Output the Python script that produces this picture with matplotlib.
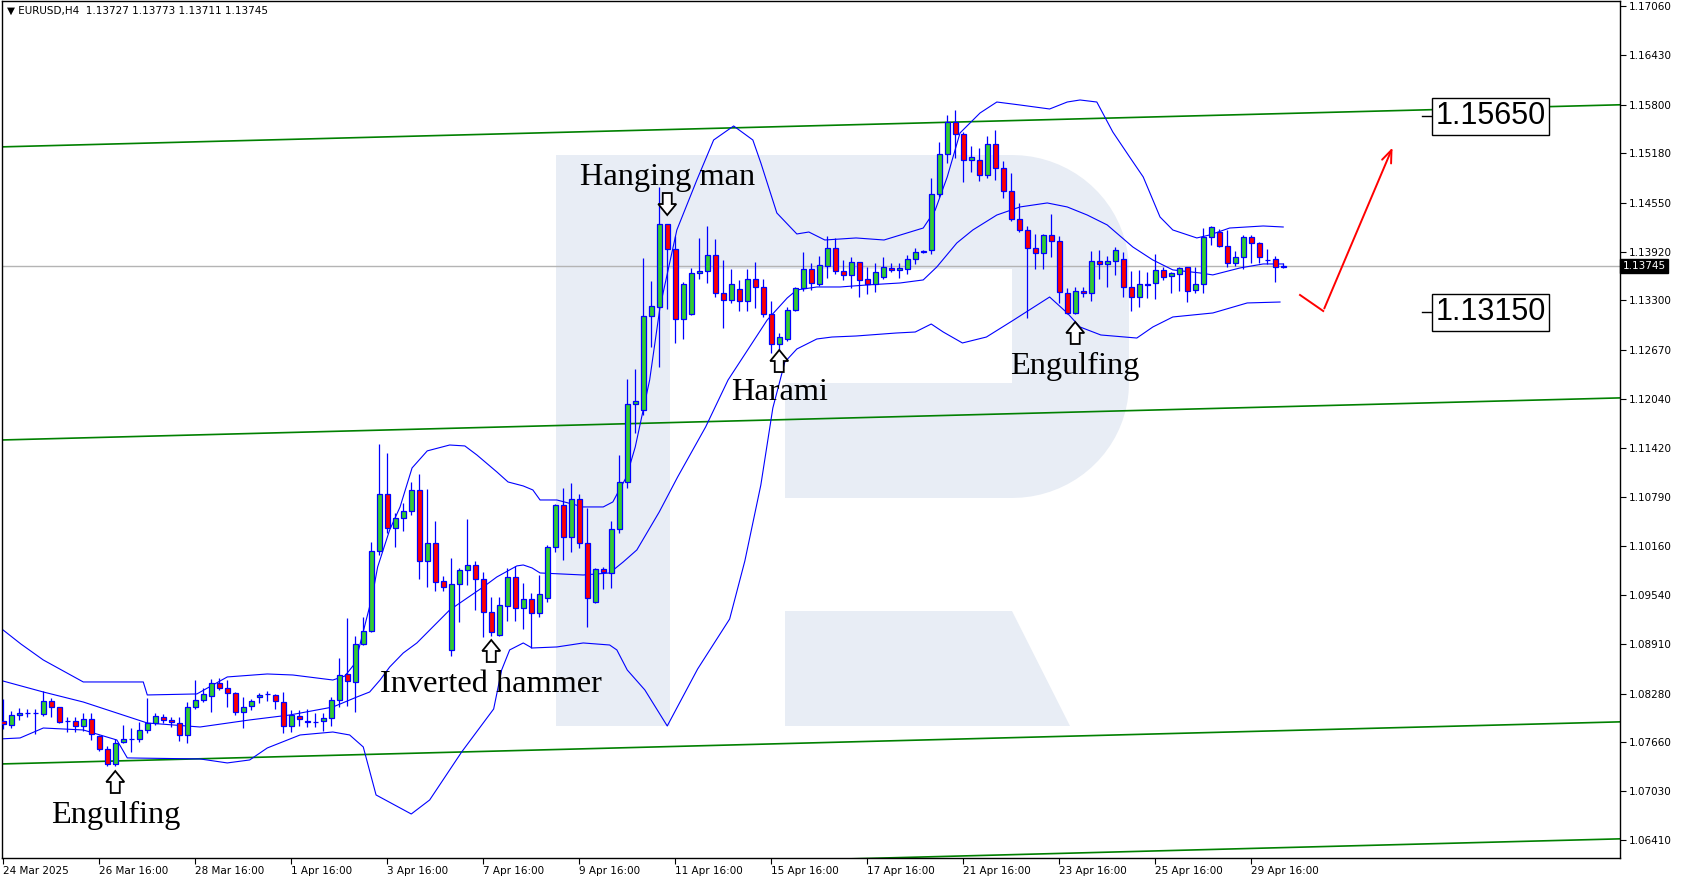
import numpy as np
import matplotlib
matplotlib.use("Agg")
import matplotlib.pyplot as plt
from matplotlib.patches import Polygon

# EURUSD H4 candles, bar 0 = 24 Mar 2025 20:00
opens = [1.07934, 1.07879, 1.08003, 1.08030, 1.08028, 1.08015, 1.08185, 1.08105, 1.07934, 1.07934,
         1.07862, 1.07959, 1.07742, 1.07568, 1.07377, 1.07658, 1.07704, 1.07704, 1.07811, 1.07900,
         1.07977, 1.07943, 1.07908, 1.07747, 1.08105, 1.08194, 1.08249, 1.08419, 1.08351, 1.08284,
         1.08041, 1.08121, 1.08240, 1.08275, 1.08258, 1.08176, 1.07870, 1.07998, 1.07934, 1.07921,
         1.07934, 1.07972, 1.08194, 1.08526, 1.08424, 1.08909, 1.09079, 1.10097, 1.10825, 1.10391,
         1.10518, 1.10608, 1.10876, 1.09969, 1.10199, 1.09718, 1.08833, 1.09675, 1.09854, 1.09918,
         1.09739, 1.09326, 1.09024, 1.09402, 1.09769, 1.09369, 1.09484, 1.09305, 1.09497, 1.10148,
         1.10684, 1.10276, 1.10761, 1.10199, 1.09453, 1.09867, 1.09824, 1.10382, 1.10978, 1.11974,
         1.11897, 1.13098, 1.13220, 1.14277, 1.13953, 1.13060, 1.13123, 1.13647, 1.13676, 1.13877,
         1.13392, 1.13306, 1.13443, 1.13293, 1.13574, 1.13468, 1.13127, 1.12744, 1.12804, 1.13174,
         1.13455, 1.13698, 1.13510, 1.13740, 1.13966, 1.13676, 1.13621, 1.13787, 1.13574, 1.13506,
         1.13596, 1.13718, 1.13685, 1.13698, 1.13826, 1.13920, 1.13941, 1.14656, 1.15167, 1.15575,
         1.15422, 1.15090, 1.15090, 1.14898, 1.15294, 1.14988, 1.14698, 1.14340, 1.14200, 1.13966,
         1.13902, 1.14136, 1.14056, 1.13392, 1.13136, 1.13425, 1.13392, 1.13800, 1.13762, 1.13800,
         1.13826, 1.13468, 1.13348, 1.13500, 1.13519, 1.13685, 1.13612, 1.13634, 1.13724, 1.13430,
         1.13506, 1.14111, 1.14178, 1.13996, 1.13775, 1.13855, 1.14111, 1.14030, 1.13815, 1.13826,
         1.13727]
highs = [1.08207, 1.08061, 1.08092, 1.08083, 1.08079, 1.08313, 1.08220, 1.08110, 1.07977, 1.07977,
         1.08028, 1.08028, 1.07751, 1.07614, 1.07704, 1.07875, 1.07840, 1.07913, 1.08227, 1.08036,
         1.08019, 1.07977, 1.07977, 1.08176, 1.08453, 1.08347, 1.08462, 1.08475, 1.08453, 1.08304,
         1.08240, 1.08211, 1.08287, 1.08309, 1.08271, 1.08300, 1.08070, 1.08070, 1.08083, 1.08028,
         1.08028, 1.08232, 1.08731, 1.09241, 1.09015, 1.09254, 1.10212, 1.11467, 1.11348, 1.10582,
         1.10710, 1.10986, 1.11084, 1.10889, 1.10484, 1.09781, 1.10008, 1.09887, 1.10506, 1.09973,
         1.09833, 1.09517, 1.09517, 1.09880, 1.09913, 1.09688, 1.09561, 1.09790, 1.10177, 1.10701,
         1.10901, 1.10965, 1.10829, 1.10654, 1.09880, 1.09896, 1.10484, 1.11327, 1.12297, 1.12425,
         1.13846, 1.13552, 1.14745, 1.14280, 1.14123, 1.13536, 1.13711, 1.14094, 1.14251, 1.14081,
         1.13817, 1.13698, 1.13561, 1.13698, 1.13795, 1.13570, 1.13297, 1.12888, 1.13220, 1.13476,
         1.13923, 1.13775, 1.13868, 1.14123, 1.14094, 1.13813, 1.13851, 1.13795, 1.13731, 1.13775,
         1.13859, 1.13775, 1.13775, 1.13881, 1.13974, 1.13944, 1.14860, 1.15320, 1.15668, 1.15732,
         1.15455, 1.15276, 1.15243, 1.15404, 1.15477, 1.15081, 1.14932, 1.14541, 1.14251, 1.14149,
         1.14145, 1.14400, 1.14127, 1.13455, 1.13468, 1.13476, 1.13932, 1.13944, 1.13872, 1.13987,
         1.13915, 1.13676, 1.13689, 1.13664, 1.13893, 1.13731, 1.13660, 1.13731, 1.13731, 1.13731,
         1.14229, 1.14255, 1.14213, 1.14200, 1.13936, 1.14136, 1.14136, 1.14050, 1.13953, 1.13872,
         1.13773]
lows = [1.07824, 1.07844, 1.07943, 1.07977, 1.07764, 1.07998, 1.07977, 1.07900, 1.07789, 1.07785,
        1.07798, 1.07687, 1.07551, 1.07355, 1.07355, 1.07645, 1.07538, 1.07665, 1.07780, 1.07875,
        1.07900, 1.07849, 1.07678, 1.07653, 1.08079, 1.08172, 1.08045, 1.08326, 1.08112, 1.08006,
        1.07844, 1.08074, 1.08156, 1.08181, 1.08079, 1.07780, 1.07793, 1.07866, 1.07857, 1.07857,
        1.07806, 1.07866, 1.08112, 1.08121, 1.08049, 1.08897, 1.09070, 1.10050, 1.10327, 1.10156,
        1.10360, 1.10560, 1.09747, 1.09645, 1.09594, 1.09594, 1.08760, 1.09198, 1.09667, 1.09347,
        1.09006, 1.09019, 1.09015, 1.09207, 1.09211, 1.09105, 1.08858, 1.09262, 1.09453, 1.10092,
        1.09986, 1.10092, 1.10135, 1.09134, 1.09433, 1.09612, 1.09624, 1.10327, 1.10901, 1.11608,
        1.11837, 1.12710, 1.12454, 1.13191, 1.12761, 1.12812, 1.13114, 1.13574, 1.13527, 1.13348,
        1.12952, 1.13272, 1.13166, 1.13166, 1.13200, 1.13093, 1.12633, 1.12655, 1.12786, 1.13166,
        1.13421, 1.13434, 1.13485, 1.13591, 1.13634, 1.13561, 1.13455, 1.13348, 1.13379, 1.13404,
        1.13574, 1.13667, 1.13583, 1.13638, 1.13762, 1.13902, 1.13890, 1.14625, 1.15052, 1.15116,
        1.14809, 1.14937, 1.14826, 1.14860, 1.14838, 1.14612, 1.14319, 1.14171, 1.13072, 1.13706,
        1.13706, 1.13859, 1.13264, 1.13127, 1.13127, 1.13348, 1.13297, 1.13578, 1.13468, 1.13629,
        1.13348, 1.13162, 1.13213, 1.13328, 1.13323, 1.13561, 1.13399, 1.13425, 1.13284, 1.13399,
        1.13392, 1.14005, 1.13987, 1.13731, 1.13744, 1.13698, 1.13775, 1.13775, 1.13766, 1.13540,
        1.13711]
closes = [1.07888, 1.08006, 1.08032, 1.08034, 1.08030, 1.08181, 1.08105, 1.07913, 1.07934, 1.07866,
          1.07959, 1.07764, 1.07568, 1.07381, 1.07653, 1.07696, 1.07704, 1.07811, 1.07908, 1.07994,
          1.07939, 1.07913, 1.07747, 1.08105, 1.08198, 1.08278, 1.08419, 1.08347, 1.08284, 1.08041,
          1.08112, 1.08181, 1.08266, 1.08275, 1.08181, 1.07870, 1.08003, 1.07952, 1.07913, 1.07921,
          1.07972, 1.08194, 1.08521, 1.08437, 1.08909, 1.09079, 1.10097, 1.10825, 1.10391, 1.10526,
          1.10612, 1.10876, 1.09969, 1.10199, 1.09709, 1.09637, 1.09675, 1.09854, 1.09918, 1.09739,
          1.09326, 1.09063, 1.09407, 1.09769, 1.09369, 1.09484, 1.09305, 1.09548, 1.10148, 1.10684,
          1.10276, 1.10761, 1.10199, 1.09497, 1.09867, 1.09829, 1.10382, 1.10978, 1.11974, 1.12016,
          1.13102, 1.13229, 1.14277, 1.13953, 1.13060, 1.13506, 1.13647, 1.13676, 1.13877, 1.13392,
          1.13306, 1.13506, 1.13293, 1.13574, 1.13468, 1.13127, 1.12744, 1.12830, 1.13174, 1.13455,
          1.13698, 1.13519, 1.13753, 1.13966, 1.13676, 1.13621, 1.13787, 1.13561, 1.13510, 1.13660,
          1.13724, 1.13689, 1.13711, 1.13826, 1.13923, 1.13926, 1.14656, 1.15167, 1.15575, 1.15422,
          1.15094, 1.15128, 1.14898, 1.15294, 1.14988, 1.14698, 1.14340, 1.14200, 1.13966, 1.13902,
          1.14136, 1.14056, 1.13404, 1.13136, 1.13425, 1.13392, 1.13800, 1.13762, 1.13800, 1.13941,
          1.13468, 1.13348, 1.13510, 1.13515, 1.13685, 1.13596, 1.13647, 1.13718, 1.13425, 1.13506,
          1.14111, 1.14238, 1.13996, 1.13775, 1.13855, 1.14111, 1.14030, 1.13851, 1.13820, 1.13724,
          1.13745]

# Bollinger bands (20, 2) read at bar positions
upper_x = [-0.5, 2.2, 5.0, 10.0, 17.5, 18.0, 24.2, 28.0, 33.0, 36.2, 41.2, 42.7, 44.0, 46.1, 46.8,
           48.3, 49.6, 51.1, 53.0, 55.8, 57.7, 59.2, 61.7, 63.1, 65.0, 66.2, 67.1, 69.2, 72.5, 75.0,
           76.2, 76.8, 77.9, 79.0, 80.8, 82.1, 84.2, 86.7, 88.8, 91.3, 93.7, 94.7, 96.7, 99.2, 100.7,
           102.7, 106.6, 110.1, 115.0, 116.5, 118.0, 119.6, 122.1, 124.2, 127.1, 130.8, 133.0, 134.6,
           136.7, 138.7, 140.8, 142.5, 144.6, 146.2, 149.2, 150.8, 153.3, 157.5, 160.0]
upper_y = [1.09130, 1.08913, 1.08709, 1.08428, 1.08428, 1.08262, 1.08275, 1.08492, 1.08530, 1.08517,
           1.08453, 1.08504, 1.08670, 1.09513, 1.09897, 1.10369, 1.10663, 1.11161, 1.11379, 1.11454,
           1.11442, 1.11327, 1.11110, 1.10982, 1.10931, 1.10880, 1.10752, 1.10752, 1.10663, 1.10663,
           1.10727, 1.10842, 1.11046, 1.11429, 1.12284, 1.13217, 1.14200, 1.14838, 1.15349, 1.15528,
           1.15349, 1.15056, 1.14417, 1.14149, 1.14174, 1.14072, 1.14098, 1.14072, 1.14225, 1.14455,
           1.14877, 1.15439, 1.15694, 1.15834, 1.15796, 1.15745, 1.15834, 1.15860, 1.15834, 1.15451,
           1.15132, 1.14877, 1.14366, 1.14200, 1.14098, 1.14136, 1.14225, 1.14251, 1.14238]
middle_x = [-0.5, 5.0, 10.0, 18.0, 24.6, 30.8, 35.8, 41.2, 44.2, 45.8, 47.1, 48.3, 50.0, 51.7, 55.8,
            60.0, 61.7, 64.2, 65.0, 66.1, 67.1, 72.5, 75.8, 77.5, 79.2, 82.0, 84.3, 87.8, 90.6, 95.5,
            98.0, 99.2, 101.7, 104.6, 108.0, 112.1, 115.0, 116.7, 119.2, 121.2, 124.2, 127.1, 130.5,
            133.0, 135.5, 138.0, 141.2, 143.7, 146.2, 149.6, 151.2, 154.6, 157.5, 160.0]
middle_y = [1.08453, 1.08300, 1.08172, 1.07904, 1.07853, 1.07943, 1.08006, 1.08108, 1.08236, 1.08300,
            1.08453, 1.08619, 1.08798, 1.08926, 1.09347, 1.09641, 1.09769, 1.09910, 1.09922, 1.09884,
            1.09820, 1.09794, 1.09820, 1.09961, 1.10114, 1.10599, 1.11046, 1.11685, 1.12284, 1.13051,
            1.13332, 1.13434, 1.13472, 1.13472, 1.13498, 1.13523, 1.13562, 1.13728, 1.14034, 1.14200,
            1.14391, 1.14494, 1.14545, 1.14494, 1.14391, 1.14264, 1.13983, 1.13817, 1.13690, 1.13651,
            1.13626, 1.13715, 1.13766, 1.13766]
lower_x = [-0.5, 2.1, 5.0, 10.0, 14.2, 15.5, 24.6, 28.0, 30.8, 33.0, 37.1, 41.2, 43.3, 45.0, 46.6,
           51.0, 53.3, 57.3, 61.3, 62.3, 63.3, 65.0, 66.1, 69.2, 72.5, 75.8, 76.7, 78.0, 80.2, 83.0,
           86.8, 90.8, 92.7, 94.7, 96.2, 97.7, 99.2, 101.7, 103.6, 106.6, 111.6, 114.0, 116.0, 117.5,
           119.9, 122.9, 126.3, 130.8, 133.0, 134.6, 137.2, 141.7, 143.7, 146.2, 151.2, 155.5, 159.6]
lower_y = [1.07700, 1.07713, 1.07840, 1.07815, 1.07687, 1.07458, 1.07445, 1.07394, 1.07432, 1.07585,
           1.07751, 1.07789, 1.07751, 1.07598, 1.06985, 1.06742, 1.06921, 1.07534, 1.08083, 1.08581,
           1.08837, 1.08926, 1.08862, 1.08875, 1.08926, 1.08900, 1.08837, 1.08581, 1.08326, 1.07866,
           1.08594, 1.09232, 1.09973, 1.10944, 1.11927, 1.12514, 1.12680, 1.12808, 1.12833, 1.12846,
           1.12884, 1.12897, 1.12999, 1.12897, 1.12757, 1.12833, 1.13050, 1.13344, 1.13140, 1.12961,
           1.12859, 1.12820, 1.12961, 1.13089, 1.13140, 1.13268, 1.13280]

# channel lines (price at bar -1 and bar 203)
chan_left = [1.15259, 1.11516, 1.07379, 1.05885]
chan_right = [1.15801, 1.12058, 1.07921, 1.06427]

last_price = 1.13745
target_up = 1.15650
target_down = 1.13150

ytick_vals = [1.17060, 1.16430, 1.15800, 1.15180, 1.14550, 1.13920, 1.13300, 1.12670, 1.12040,
              1.11420, 1.10790, 1.10160, 1.09540, 1.08910, 1.08280, 1.07660, 1.07030, 1.06410]
xtick_labels = ["24 Mar 2025", "26 Mar 16:00", "28 Mar 16:00", "1 Apr 16:00", "3 Apr 16:00",
                "7 Apr 16:00", "9 Apr 16:00", "11 Apr 16:00", "15 Apr 16:00", "17 Apr 16:00",
                "21 Apr 16:00", "23 Apr 16:00", "25 Apr 16:00", "29 Apr 16:00"]

# pattern labels: (text, bar, baseline price, arrow tip price, arrow points up)
patterns = [("Hanging man", 83.0, 1.14778, 1.14391, False),
            ("Harami", 97.0, 1.12027, 1.12667, True),
            ("Engulfing", 134.0, 1.12361, 1.13025, True),
            ("Inverted hammer", 61.0, 1.08300, 1.08964, True),
            ("Engulfing", 14.0, 1.06627, 1.07291, True)]

# forecast arrow
fc_x = [162.1, 165.0, 173.8]
fc_y = [1.13370, 1.13165, 1.15285]

W, H = 1684, 882
XL = (-0.16, 202.1)
YL = (1.06180, 1.17124)
fig = plt.figure(figsize=(W / 100, H / 100), dpi=100)
ax = fig.add_axes([2 / W, (H - 858) / H, 1618 / W, 857 / H])
ax.set_xlim(*XL)
ax.set_ylim(*YL)

# size of one screen pixel in data units
bar_px = (XL[1] - XL[0]) / 1618
price_px = (YL[1] - YL[0]) / 857


def px(x, y):
    # reference pixel -> axes fraction, used for the watermark only
    return ((x - 2) / 1618, (858 - y) / 857)


# watermark "R"
logo_col = "#e8edf5"
t = np.linspace(np.pi / 2, 0, 20)
bowl = [(556, 155), (1012, 155)]
bowl += [(1012 + 117 * np.cos(a), 270 - 115 * np.sin(a)) for a in t]
bowl += [(1012 + 117 * np.cos(a), 383 + 115 * np.sin(a)) for a in t[::-1]]
bowl += [(785, 498), (785, 383), (1012, 383), (1012, 269), (670, 269), (670, 726), (556, 726)]
leg = [(785, 611), (1012, 611), (1070, 726), (785, 726)]
for shape in (bowl, leg):
    ax.add_patch(Polygon([px(*p) for p in shape], closed=True, facecolor=logo_col,
                         edgecolor="none", transform=ax.transAxes, zorder=0))

for y0, y1 in zip(chan_left, chan_right):
    ax.plot([-1, 203], [y0, y1], color="#008000", lw=1.2, zorder=1)

ax.axhline(last_price, color="#b4b4b4", lw=1, zorder=1)

for bx, by in ((upper_x, upper_y), (middle_x, middle_y), (lower_x, lower_y)):
    ax.plot(bx, by, color="#0000ff", lw=0.8, zorder=2)

# candles
o = np.array(opens)
c = np.array(closes)
x = np.arange(len(o))
cols = np.where(c > o, "#32cd32", np.where(c < o, "#ff0000", "#0000ff"))
ax.vlines(x, lows, highs, color="#0000ff", lw=0.9, zorder=3)
ax.bar(x, np.abs(c - o), bottom=np.minimum(o, c), width=0.6, color=cols,
       edgecolor="#0000ff", linewidth=0.9, zorder=4)

# hollow arrow outline in pixels, tip at (0, 0), pointing up
arrow_shape = [(0, 0), (9, -11), (4.5, -11), (4.5, -22), (-4.5, -22), (-4.5, -11), (-9, -11)]

for label, bx, ty, tip, up in patterns:
    ax.text(bx, ty, label, family="Liberation Serif", fontsize=23.3, ha="center",
            va="baseline", zorder=6)
    sgn = 1 if up else -1
    pts = [(bx + dx * bar_px, tip + sgn * dy * price_px) for dx, dy in arrow_shape]
    ax.add_patch(Polygon(pts, closed=True, facecolor="white", edgecolor="black",
                         lw=1.3, joinstyle="miter", zorder=6))

# target boxes
for lvl in (target_up, target_down):
    ax.plot([177.4, 178.6], [lvl, lvl], color="black", lw=1, zorder=6)
    ax.text(185.9, lvl, f"{lvl:.5f}", family="Liberation Sans", fontsize=22,
            ha="center", va="center", zorder=6,
            bbox=dict(boxstyle="square,pad=0.12", fc="white", ec="black", lw=1))

ax.annotate("", xy=(fc_x[2], fc_y[2]), xytext=(fc_x[1], fc_y[1]),
            arrowprops=dict(arrowstyle="->,head_length=0.9,head_width=0.35",
                            color="#ff0000", lw=1.4), zorder=6)
ax.plot(fc_x[:2], fc_y[:2], color="#ff0000", lw=1.4, zorder=6)

# axes styling
ax.yaxis.tick_right()
ax.set_yticks(ytick_vals)
ax.set_yticklabels([f"{v:.5f}" for v in ytick_vals])
ax.set_xticks(np.arange(0, 12 * len(xtick_labels), 12))
ax.set_xticklabels(xtick_labels)
for lab in ax.get_xticklabels():
    lab.set_horizontalalignment("left")
ax.tick_params(axis="both", length=4, width=0.8, labelsize=7.5, pad=2, colors="black")
for s in ax.spines.values():
    s.set_linewidth(1)
    s.set_color("black")

ax.text(1.0015, last_price, "1.13745", transform=ax.get_yaxis_transform(), fontsize=7.5,
        color="white", va="center", ha="left",
        bbox=dict(boxstyle="square,pad=0.2", fc="black", ec="black"), zorder=7)

ax.text(0.003, 0.995, "\u25bc EURUSD,H4  1.13727 1.13773 1.13711 1.13745",
        transform=ax.transAxes, fontsize=7.5, va="top", ha="left")

fig.savefig("out.png", dpi=100)
